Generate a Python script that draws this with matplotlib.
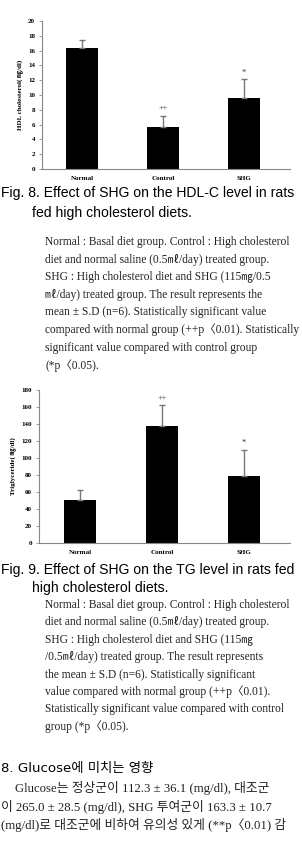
import matplotlib
matplotlib.use("Agg")
import matplotlib.pyplot as plt

groups = ["Normal", "Control", "SHG"]

# Fig. 8 HDL-C (mg/dl)
hdl_mean = [16.3, 5.7, 9.6]
hdl_sd = [1.1, 1.5, 2.5]
hdl_marks = ["", "++", "*"]

# Fig. 9 TG (mg/dl)
tg_mean = [50, 137, 79]
tg_sd = [12, 25, 30]
tg_marks = ["", "++", "*"]

serif = ["Liberation Serif", "Noto Sans CJK KR"]
sans = ["DejaVu Sans", "Noto Sans CJK KR"]
capfont = ["Liberation Sans", "Noto Sans CJK KR"]

fig = plt.figure(figsize=(3.02, 8.47), dpi=100)


def bar_panel(rect, means, sds, marks, ymax, ystep, ylabel, xlim):
    ax = fig.add_axes(rect)
    x = range(len(groups))
    ax.bar(x, means, width=0.4, color="black", zorder=2)
    ax.errorbar(x, means, yerr=[[0] * len(sds), sds], fmt="none",
                ecolor="#777777", elinewidth=1, capsize=2.5, capthick=1, zorder=3)
    for i, m in enumerate(marks):
        if m:
            ax.text(i, means[i] + sds[i] + ymax * 0.02, m, ha="center", va="bottom",
                    fontsize=6, family=serif, color="#333333")
    ax.set_ylim(0, ymax)
    ax.set_xlim(*xlim)
    ax.set_yticks(range(0, ymax + 1, ystep))
    ax.set_xticks(list(x))
    ax.set_xticklabels(groups)
    for s in ["top", "right"]:
        ax.spines[s].set_visible(False)
    for s in ["left", "bottom"]:
        ax.spines[s].set_color("#888888")
        ax.spines[s].set_linewidth(0.8)
    ax.tick_params(axis="y", length=2, width=0.6, color="#888888", pad=3, labelsize=5)
    ax.tick_params(axis="x", length=0, pad=5, labelsize=5)
    for lb in ax.get_yticklabels() + ax.get_xticklabels():
        lb.set_family(serif)
        lb.set_fontweight("bold")
    ax.set_ylabel(ylabel, fontsize=5, family=serif, fontweight="bold", labelpad=3)
    return ax


bar_panel([0.139, 0.8005, 0.821, 0.1747], hdl_mean, hdl_sd, hdl_marks, 20, 2,
          "HDL cholesterol( ㎎/dl)", (-0.494, 2.568))
bar_panel([0.129, 0.3593, 0.831, 0.1803], tg_mean, tg_sd, tg_marks, 180, 20,
          "Triglyceride( ㎎/dl)", (-0.5, 2.56))


def txt(x, y, s, size, fam, **kw):
    fig.text(x / 302, 1 - y / 847, s, fontsize=size, family=fam, va="center", ha="left", **kw)


cap_size = 10.1
note_size = 8.3
body_size = 9.2

txt(1, 193, "Fig. 8. Effect of SHG on the HDL-C level in rats", cap_size, capfont)
txt(32, 213, "fed high cholesterol diets.", cap_size, capfont)

note8 = [
    "Normal : Basal diet group. Control : High cholesterol",
    "diet and normal saline (0.5㎖/day) treated group.",
    "SHG : High cholesterol diet and SHG (115㎎/0.5",
    "㎖/day) treated group. The result represents the",
    "mean ± S.D (n=6). Statistically significant value",
    "compared with normal group (++p〈0.01). Statistically",
    "significant value compared with control group",
    "(*p〈0.05).",
]
for i, line in enumerate(note8):
    txt(45, 242 + i * 17.6, line, note_size, serif, color="#222222")

txt(1, 570, "Fig. 9. Effect of SHG on the TG level in rats fed", cap_size, capfont)
txt(32, 588, "high cholesterol diets.", cap_size, capfont)

note9 = [
    "Normal : Basal diet group. Control : High cholesterol",
    "diet and normal saline (0.5㎖/day) treated group.",
    "SHG : High cholesterol diet and SHG (115㎎",
    "/0.5㎖/day) treated group. The result represents",
    "the mean ± S.D (n=6). Statistically significant",
    "value compared with normal group (++p〈0.01).",
    "Statistically significant value compared with control",
    "group (*p〈0.05).",
]
for i, line in enumerate(note9):
    txt(45, 605 + i * 17.4, line, note_size, serif, color="#222222")

txt(1, 768, "8. Glucose에 미치는 영향", 9.6, sans)
txt(15, 788, "Glucose는 정상군이 112.3 ± 36.1 (mg/dl), 대조군", body_size, serif, color="#222222")
txt(1, 807, "이 265.0 ± 28.5 (mg/dl), SHG 투여군이 163.3 ± 10.7", body_size, serif, color="#222222")
txt(1, 825, "(mg/dl)로 대조군에 비하여 유의성 있게 (**p〈0.01) 감", body_size, serif, color="#222222")

fig.savefig("out.png", dpi=100)
